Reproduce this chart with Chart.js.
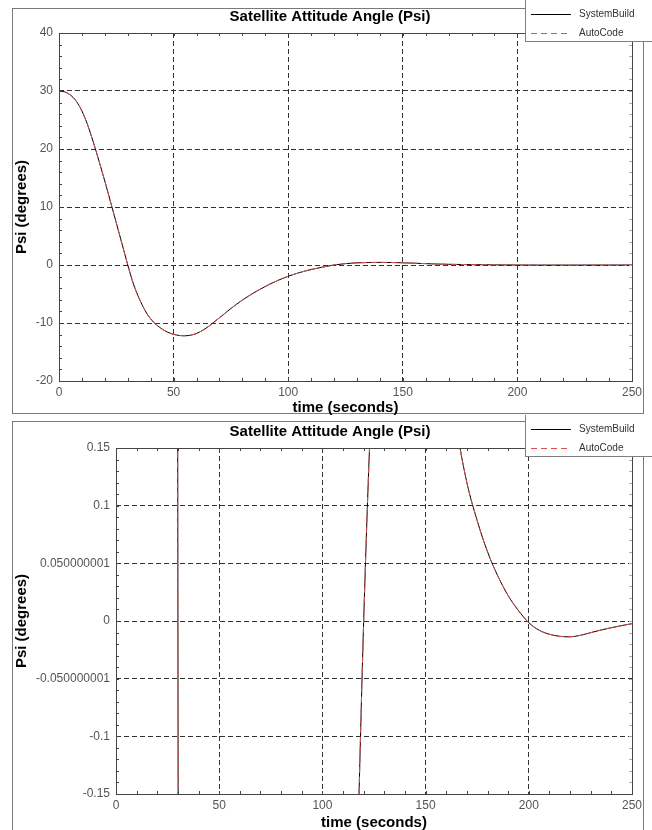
<!DOCTYPE html>
<html>
<head>
<meta charset="utf-8">
<script src="https://cdn.jsdelivr.net/npm/chart.js@4.4.0/dist/chart.umd.min.js"></script>
<style>
  body { margin: 0; background: #fff; }
  #wrap { position: relative; width: 652px; height: 830px; overflow: hidden; }
  .frame { position: absolute; border: 1px solid #7a7a7a; }
  canvas { position: absolute; left: 0; }
</style>
</head>
<body>
<div id="wrap">
  <div class="frame" style="left:12px;top:8px;width:630px;height:404px"></div>
  <div class="frame" style="left:12px;top:421px;width:630px;height:430px"></div>
  <canvas id="topChart" width="652" height="415" style="top:0"></canvas>
  <canvas id="bottomChart" width="652" height="415" style="top:415px"></canvas>
</div>
<script>
// texts
const chartTitle = 'Satellite Attitude Angle (Psi)';
const xTitle = 'time (seconds)';
const yTitle = 'Psi (degrees)';
const seriesNames = ['SystemBuild', 'AutoCode'];

// simulation output
const timeSec = [0, 2.5, 5, 7.5, 10, 12.5, 15, 17.5, 20, 22.5, 25, 27.5, 30, 32.5, 35, 37.5, 40, 42.5, 45, 47.5,
  50, 52.5, 55, 57.5, 60, 62.5, 65, 70, 75, 80, 85, 90, 95, 100, 105, 110, 115, 120, 125, 130, 135, 140, 145,
  150, 155, 160, 165, 170, 175, 180, 185, 190, 195, 200, 205, 210, 215, 220, 225, 230, 235, 240, 245, 250];
const psiDeg = [30, 29.85, 29.3, 28.25, 26.55, 24.15, 21.15, 17.85, 14.45, 10.85, 7.25, 3.65, 0, -3.3, -5.8, -7.8, -9.3, -10.3, -11.05, -11.6,
  -11.95, -12.15, -12.2, -12.1, -11.8, -11.3, -10.65, -9.1, -7.5, -6.05, -4.8, -3.7, -2.75, -1.95, -1.3, -0.78, -0.36, 0, 0.24, 0.37, 0.43, 0.45, 0.43,
  0.38, 0.31, 0.235, 0.168, 0.12, 0.087, 0.06, 0.039, 0.022, 0.009, -0.0015, -0.008, -0.0115, -0.0133, -0.0137, -0.0124, -0.0101, -0.0078, -0.0058, -0.004, -0.0023];
// autocode output starts from 0 at the first sample
const autoTime = [0].concat(timeSec);
const autoPsi = [0].concat(psiDeg);

// axes
const xTicks = [0, 50, 100, 150, 200, 250];
const yTicksTop = [-20, -10, 0, 10, 20, 30, 40];
const yLabelsTop = ['-20', '-10', '0', '10', '20', '30', '40'];
const yTicksBottom = [-0.15, -0.1, -0.05, 0, 0.05, 0.1, 0.15];
const yLabelsBottom = ['-0.15', '-0.1', '-0.050000001', '0', '0.050000001', '0.1', '0.15'];

const FONT = '"Liberation Sans", Arial, sans-serif';

// box round the plot, small inside ticks, title and legend
const framePlugin = {
  id: 'framePlugin',
  afterDraw(chart, args, opts) {
    const ctx = chart.ctx;
    const a = chart.chartArea;
    const xs = chart.scales.x, ys = chart.scales.y;
    ctx.save();
    ctx.lineWidth = 1;
    ctx.setLineDash([]);

    // minor ticks
    const n = Math.round((xs.max - xs.min) / opts.xMinor);
    for (let i = 0; i <= n; i++) {
      const px = Math.round(xs.getPixelForValue(xs.min + i * opts.xMinor)) + 0.5;
      ctx.strokeStyle = '#444';
      ctx.beginPath();
      ctx.moveTo(px, a.bottom); ctx.lineTo(px, a.bottom - 3);
      ctx.moveTo(px, a.top); ctx.lineTo(px, a.top + 3);
      ctx.stroke();
    }
    const m = Math.round((ys.max - ys.min) / opts.yMinor);
    for (let i = 0; i <= m; i++) {
      const py = Math.round(ys.getPixelForValue(ys.min + i * opts.yMinor)) + 0.5;
      ctx.strokeStyle = '#444';
      ctx.beginPath();
      ctx.moveTo(a.left, py); ctx.lineTo(a.left + 3, py);
      ctx.stroke();
      ctx.strokeStyle = '#aaa';
      ctx.beginPath();
      ctx.moveTo(a.right, py); ctx.lineTo(a.right - 3, py);
      ctx.stroke();
    }
    ctx.strokeStyle = '#444';
    ctx.strokeRect(Math.round(a.left) + 0.5, Math.round(a.top) + 0.5, Math.round(a.width), Math.round(a.height));

    // title
    ctx.fillStyle = '#000';
    ctx.font = 'bold 15px ' + FONT;
    ctx.textAlign = 'center';
    ctx.textBaseline = 'middle';
    ctx.fillText(chartTitle, opts.titleX, 17);

    // legend
    const lx = 525;
    ctx.fillStyle = '#fff';
    ctx.fillRect(lx, 0, chart.width - lx, 42);
    ctx.strokeStyle = '#808080';
    ctx.strokeRect(lx + 0.5, -0.5, chart.width, 42);
    const rows = [14, 33];
    chart.data.datasets.forEach((ds, i) => {
      ctx.strokeStyle = ds.borderColor;
      ctx.setLineDash(ds.borderDash || []);
      ctx.beginPath();
      ctx.moveTo(lx + 6, rows[i] + 0.5);
      ctx.lineTo(lx + 46, rows[i] + 0.5);
      ctx.stroke();
      ctx.setLineDash([]);
      ctx.fillStyle = '#333';
      ctx.font = '10px ' + FONT;
      ctx.textAlign = 'left';
      ctx.fillText(ds.label, lx + 54, rows[i]);
    });
    ctx.restore();
  }
};

function makeChart(id, cfg) {
  return new Chart(document.getElementById(id), {
    type: 'line',
    data: {
      datasets: [{
        label: seriesNames[0],
        data: timeSec.map((t, i) => ({x: t, y: psiDeg[i]})),
        borderColor: '#000',
        borderWidth: 1,
        pointRadius: 0,
        cubicInterpolationMode: 'monotone',
        capBezierPoints: false,
        order: 1
      }, {
        label: seriesNames[1],
        data: autoTime.map((t, i) => ({x: t, y: autoPsi[i]})),
        borderColor: '#e05050',
        borderWidth: 1,
        borderDash: [6, 4],
        pointRadius: 0,
        cubicInterpolationMode: 'monotone',
        capBezierPoints: false,
        order: 0
      }]
    },
    options: {
      responsive: false,
      animation: false,
      layout: {padding: {top: 33, right: 20, bottom: 0, left: 0}},
      plugins: {
        legend: {display: false},
        tooltip: {enabled: false},
        framePlugin: {xMinor: 10, yMinor: cfg.yMinor, titleX: 330}
      },
      scales: {
        x: {
          type: 'linear',
          min: 0, max: 250,
          afterBuildTicks: s => { s.ticks = xTicks.map(v => ({value: v})); },
          afterFit: s => { s.height = cfg.xH; },
          ticks: {color: '#555', font: {family: FONT, size: 12}, padding: 4, maxRotation: 0, autoSkip: false},
          grid: {color: '#333', drawTicks: false},
          border: {display: false, dash: [5, 3]},
          title: {display: true, text: xTitle, color: '#000',
            font: {family: FONT, size: 15, weight: 'bold', lineHeight: 1}, padding: {top: 0, bottom: 0}}
        },
        y: {
          min: cfg.yTicks[0], max: cfg.yTicks[cfg.yTicks.length - 1],
          afterBuildTicks: s => { s.ticks = cfg.yTicks.map(v => ({value: v})); },
          afterFit: s => { s.width = cfg.yW; },
          ticks: {color: '#555', font: {family: FONT, size: 12}, padding: 6, autoSkip: false,
            callback: (v, i) => cfg.yLabels[i]},
          grid: {color: '#333', drawTicks: false},
          border: {display: false, dash: [5, 3]},
          title: {display: true, text: yTitle, color: '#000',
            font: {family: FONT, size: 15, weight: 'bold', lineHeight: 1}, padding: {top: 14, bottom: 0}}
        }
      }
    },
    plugins: [framePlugin]
  });
}

makeChart('topChart', {yTicks: yTicksTop, yLabels: yLabelsTop, yMinor: 2, yW: 59, xH: 34});
makeChart('bottomChart', {yTicks: yTicksBottom, yLabels: yLabelsBottom, yMinor: 0.01, yW: 116, xH: 36});
</script>
</body>
</html>
